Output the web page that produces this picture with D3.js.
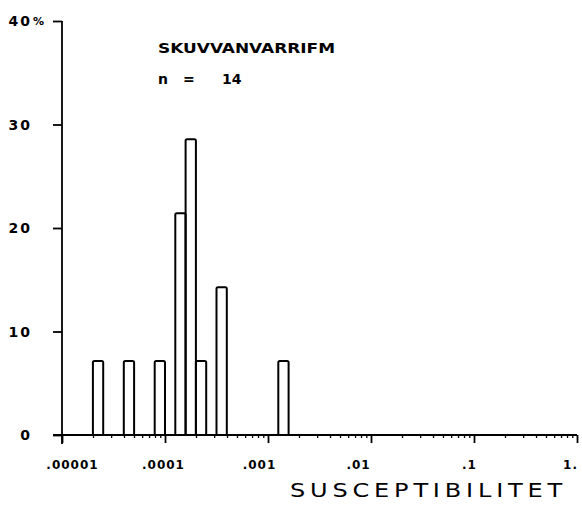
<!DOCTYPE html>
<html>
<head>
<meta charset="utf-8">
<script src="https://cdn.jsdelivr.net/npm/d3@7"></script>
<style>
  html, body { margin: 0; padding: 0; background: #fff; }
  svg { display: block; }
  text { font-family: "DejaVu Sans", sans-serif; fill: #000; }
</style>
</head>
<body>
<svg id="chart" width="582" height="506"></svg>
<script>
// Histogram of magnetic susceptibility, 0.1-decade bins (log10 of lower bin edge)
const binLog10 = [-4.7, -4.4, -4.1, -3.9, -3.8, -3.7, -3.5, -2.9];
const binCount = [1, 1, 1, 3, 4, 1, 2, 1];
const sampleN = 14;

const xTickValues = [0.00001, 0.0001, 0.001, 0.01, 0.1, 1];
const xTickLabels = [".00001", ".0001", ".001", ".01", ".1", "1."];
const yTickValues = [0, 10, 20, 30, 40];
const yTickLabels = ["0", "10", "20", "30", "40"];

const titleText = "SKUVVANVARRIFM";
const xTitle = "SUSCEPTIBILITET";

// plotter label nudges along the x axis (px)
const xLabelShift = [10, -2, -9, -13, -5, -7];

const svg = d3.select("#chart");

const x = d3.scaleLog().domain([1e-5, 1]).range([62, 577]);
const y = d3.scaleLinear().domain([0, 40]).range([435, 21]);

const bins = binLog10.map((lo, i) => ({
  x0: Math.pow(10, lo),
  x1: Math.pow(10, lo + 0.1),
  pct: binCount[i] / sampleN * 100
}));

// bars: open outlines
svg.append("g")
  .selectAll("rect")
  .data(bins)
  .join("rect")
  .attr("x", d => x(d.x0))
  .attr("y", d => y(d.pct))
  .attr("width", d => x(d.x1) - x(d.x0))
  .attr("height", d => y(0) - y(d.pct))
  .attr("rx", 1.5)
  .attr("fill", "none")
  .attr("stroke", "#000")
  .attr("stroke-width", 2);

// minor log ticks
const minorTicks = [];
for (let e = -5; e < 0; e++) {
  for (let m = 2; m <= 9; m++) minorTicks.push(m * Math.pow(10, e));
}
svg.append("g")
  .attr("transform", `translate(0,${y(0)})`)
  .call(d3.axisBottom(x).tickValues(minorTicks).tickSize(3).tickFormat(""))
  .call(g => g.select(".domain").remove())
  .call(g => g.selectAll("line").attr("stroke-width", 1.3));

// x axis with decade ticks
const xAxis = svg.append("g")
  .attr("transform", `translate(0,${y(0)})`)
  .call(d3.axisBottom(x)
    .tickValues(xTickValues)
    .tickSize(8)
    .tickSizeOuter(0)
    .tickPadding(17)
    .tickFormat((d, i) => xTickLabels[i]));
xAxis.select(".domain").remove();
xAxis.selectAll("line").attr("stroke-width", 1.8);
xAxis.selectAll("text")
  .attr("dx", (d, i) => xLabelShift[i])
  .attr("font-size", 12)
  .attr("font-weight", "bold")
  .attr("letter-spacing", 1)
  .style("font-family", "DejaVu Sans, sans-serif");
// horizontal base line
svg.append("line")
  .attr("x1", 53).attr("x2", x(1))
  .attr("y1", y(0)).attr("y2", y(0))
  .attr("stroke", "#000").attr("stroke-width", 1.8);

// y axis: ticks from the axis generator, labels set right-aligned at a fixed column
const yAxis = svg.append("g")
  .attr("transform", `translate(${x(1e-5)},0)`)
  .call(d3.axisLeft(y)
    .tickValues(yTickValues)
    .tickSize(9)
    .tickSizeOuter(0)
    .tickFormat(""));
yAxis.select(".domain").remove();
yAxis.selectAll("line").attr("stroke-width", 1.8);
svg.append("g")
  .selectAll("text")
  .data(yTickValues)
  .join("text")
  .attr("x", 32)
  .attr("y", d => y(d))
  .attr("dy", "0.36em")
  .attr("text-anchor", "end")
  .attr("font-size", 14)
  .attr("font-weight", "bold")
  .attr("letter-spacing", 2)
  .text((d, i) => yTickLabels[i]);
svg.append("line")
  .attr("x1", x(1e-5)).attr("x2", x(1e-5))
  .attr("y1", y(40)).attr("y2", y(0) + 9)
  .attr("stroke", "#000").attr("stroke-width", 1.8);
// percent sign after the top label
svg.append("text")
  .attr("x", 33).attr("y", y(40) + 4)
  .attr("font-size", 11).attr("font-weight", "bold")
  .text("%");

// title block
svg.append("text")
  .attr("x", 158).attr("y", 53)
  .attr("font-size", 14).attr("font-weight", "bold")
  .attr("textLength", 177).attr("lengthAdjust", "spacingAndGlyphs")
  .text(titleText);
const nLine = svg.append("g").attr("font-size", 14).attr("font-weight", "bold");
nLine.append("text").attr("x", 158).attr("y", 84).text("n");
nLine.append("text").attr("x", 183).attr("y", 84).text("=");
nLine.append("text").attr("x", 222).attr("y", 84).text(sampleN);

// x axis title
svg.append("text")
  .attr("x", 290).attr("y", 497)
  .attr("font-size", 20)
  .attr("letter-spacing", 4)
  .attr("textLength", 277).attr("lengthAdjust", "spacingAndGlyphs")
  .text(xTitle);
</script>
</body>
</html>
